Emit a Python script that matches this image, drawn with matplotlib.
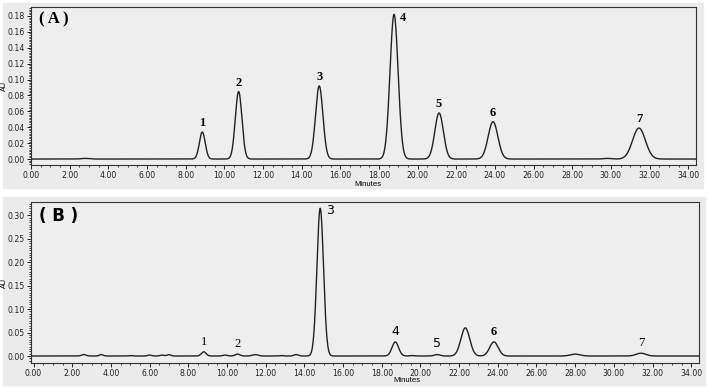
import numpy as np
import matplotlib.pyplot as plt
from matplotlib.patches import Rectangle
from matplotlib.ticker import MultipleLocator, FormatStrFormatter

# 色谱峰参数（保留时间 min，峰高 AU，峰宽 sigma）
a_rt = [2.8, 8.86, 10.74, 14.91, 18.78, 21.11, 23.9, 29.8, 31.45]
a_h = [0.0008, 0.034, 0.085, 0.092, 0.182, 0.058, 0.047, 0.0008, 0.039]
a_w = [0.20, 0.15, 0.17, 0.19, 0.21, 0.22, 0.25, 0.20, 0.33]
a_labels = ['1', '2', '3', '4', '5', '6', '7']
a_label_rt = [8.86, 10.74, 14.91, 18.78, 21.11, 23.9, 31.45]
a_label_h = [0.034, 0.085, 0.092, 0.182, 0.058, 0.047, 0.039]

b_rt = [2.6, 3.5, 5.0, 6.0, 6.64, 7.0, 8.8, 9.9, 10.55, 11.46, 12.8, 13.58,
        14.82, 18.7, 19.57, 20.86, 22.32, 23.8, 28.0, 31.4]
b_h = [0.003, 0.003, 0.001, 0.002, 0.002, 0.003, 0.009, 0.002, 0.004, 0.003,
       0.001, 0.003, 0.315, 0.030, 0.001, 0.003, 0.060, 0.030, 0.004, 0.006]
b_w = [0.12, 0.10, 0.10, 0.10, 0.10, 0.10, 0.12, 0.12, 0.12, 0.15,
       0.10, 0.12, 0.17, 0.17, 0.12, 0.15, 0.23, 0.22, 0.25, 0.25]
b_labels = ['1', '2', '3', '4', '5', '6', '7']
b_label_rt = [8.8, 10.55, 14.82, 18.7, 20.86, 23.8, 31.4]
b_label_h = [0.009, 0.004, 0.315, 0.030, 0.003, 0.030, 0.006]
b_label_serif = [True, True, False, False, False, True, True]

t = np.linspace(-0.2, 34.4, 3461)


def trace(rt, h, w):
    y = np.zeros_like(t)
    for r, hh, ww in zip(rt, h, w):
        y += hh * np.exp(-0.5 * ((t - r) / ww) ** 2)
    return y


W, H = 709, 387
fig = plt.figure(figsize=(W / 100, H / 100), dpi=100, facecolor='white')

# 两个面板的灰色底
fig.add_artist(Rectangle((3 / W, 1 - 188 / H), 700 / W, 185 / H,
                         transform=fig.transFigure, color='#ebebeb', zorder=-5))
fig.add_artist(Rectangle((3 / W, 1 - 385 / H), 702 / W, 188 / H,
                         transform=fig.transFigure, color='#ebebeb', zorder=-5))

axA = fig.add_axes([31 / W, 1 - 165 / H, 665 / W, 158 / H])
axB = fig.add_axes([31 / W, 1 - 363 / H, 668 / W, 161 / H])

tick_font = dict(family='Liberation Sans', size=5.6)

for ax in (axA, axB):
    ax.set_facecolor('#eeeeee')
    ax.xaxis.set_major_locator(MultipleLocator(2))
    ax.xaxis.set_minor_locator(MultipleLocator(0.5))
    ax.xaxis.set_major_formatter(FormatStrFormatter('%.2f'))
    ax.yaxis.set_major_formatter(FormatStrFormatter('%.2f'))
    ax.tick_params(which='major', length=3, width=0.7, pad=1.5, colors='#222222',
                   labelsize=5.6)
    ax.tick_params(which='minor', length=1.5, width=0.6, colors='#222222')
    for s in ax.spines.values():
        s.set_linewidth(0.8)
        s.set_color('#333333')
    ax.set_ylabel('AU', family='Liberation Sans', fontsize=5.2)
    ax.set_xlabel('Minutes', fontdict=tick_font, labelpad=0)

# (A)
axA.plot(t, trace(a_rt, a_h, a_w), color='#222222', lw=1.0)
axA.set_xlim(0, 34.4)
axA.set_ylim(-0.0075, 0.1913)
axA.yaxis.set_major_locator(MultipleLocator(0.02))
axA.yaxis.set_minor_locator(MultipleLocator(0.002))
axA.xaxis.set_label_coords(0.507, -0.10)
axA.yaxis.set_label_coords(-0.035, 0.5)
for lab, r, h in zip(a_labels, a_label_rt, a_label_h):
    if lab == '4':
        axA.annotate(lab, (r, h), xytext=(4, -7), textcoords='offset points',
                     ha='left', va='bottom', family='Liberation Serif',
                     fontweight='bold', fontsize=9)
    else:
        axA.annotate(lab, (r, h), xytext=(0, 2), textcoords='offset points',
                     ha='center', va='bottom', family='Liberation Serif',
                     fontweight='bold', fontsize=9)
axA.text(0.012, 0.97, '( A )', transform=axA.transAxes, ha='left', va='top',
         family='Liberation Serif', fontweight='bold', fontsize=12)

# (B)
axB.plot(t, trace(b_rt, b_h, b_w), color='#222222', lw=1.0)
axB.set_xlim(-0.13, 34.4)
axB.set_ylim(-0.0149, 0.3283)
axB.yaxis.set_major_locator(MultipleLocator(0.05))
axB.yaxis.set_minor_locator(MultipleLocator(0.005))
axB.xaxis.set_label_coords(0.563, -0.09)
axB.yaxis.set_label_coords(-0.035, 0.5)
for lab, r, h, serif in zip(b_labels, b_label_rt, b_label_h, b_label_serif):
    fam = 'Liberation Serif' if serif else 'DejaVu Sans'
    if lab == '3':
        axB.annotate(lab, (r, h), xytext=(4, -6), textcoords='offset points',
                     ha='left', va='bottom', family=fam, fontsize=9)
    else:
        axB.annotate(lab, (r, h), xytext=(0, 3), textcoords='offset points',
                     ha='center', va='bottom', family=fam,
                     fontweight='bold' if lab == '6' else 'normal', fontsize=9)
axB.text(0.012, 0.97, '( B )', transform=axB.transAxes, ha='left', va='top',
         family='DejaVu Sans', fontweight='bold', fontsize=12)

fig.savefig('out.png', dpi=100)
